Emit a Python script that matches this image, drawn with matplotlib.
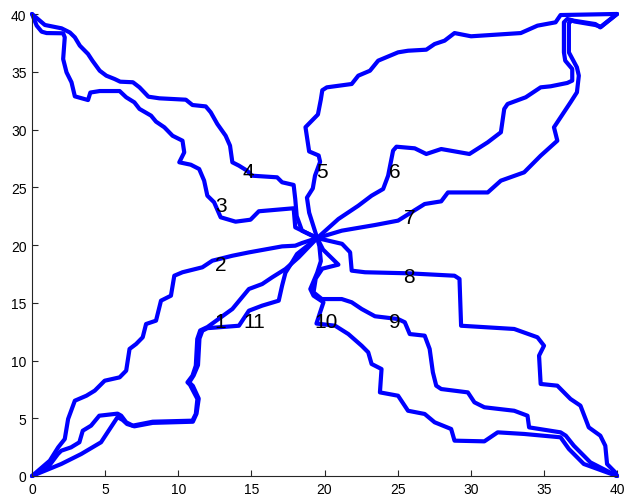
import matplotlib
matplotlib.use("Agg")
import matplotlib.pyplot as plt

plt.rcParams['font.family'] = ['Liberation Sans', 'DejaVu Sans']

path1 = [(0, 0), (1.09, 0.75), (1.77, 1.9), (2.0, 2.19), (2.67, 2.48), (3.24, 2.92), (3.47, 3.92),
         (4.04, 4.36), (4.6, 5.22), (5.85, 5.4), (6.1, 5.22), (6.44, 4.65), (6.89, 4.36), (8.25, 4.7),
         (10.97, 4.79), (11.2, 5.37), (11.31, 6.67), (10.8, 7.9), (10.63, 8.11), (10.97, 8.68),
         (11.2, 9.55), (11.3, 11.86), (11.5, 12.6), (12.0, 12.9), (13.7, 14.46), (14.83, 16.19),
         (15.74, 16.62), (16.42, 17.2), (17.33, 17.92), (18.23, 18.93), (19.5, 20.6)]
path2 = [(0, 0), (1.22, 1.33), (1.79, 2.48), (2.24, 3.2), (2.47, 4.94), (2.93, 6.52), (3.72, 6.95),
         (4.29, 7.39), (4.97, 8.25), (5.99, 8.54), (6.44, 9.12), (6.67, 11.0), (7.12, 11.43),
         (7.57, 12.01), (7.8, 13.16), (8.48, 13.45), (8.82, 15.18), (9.5, 15.61), (9.73, 17.34),
         (10.29, 17.64), (11.65, 18.07), (12.33, 18.64), (13.7, 19.07), (14.83, 19.36), (17.1, 19.88),
         (18.0, 19.94), (18.46, 20.17), (19.5, 20.6)]
path3 = [(0, 40), (0.32, 38.99), (0.66, 38.47), (1.0, 38.35), (2.13, 38.33), (2.24, 37.98), (2.13, 36.1),
         (2.36, 34.95), (2.7, 34.09), (2.93, 32.87), (3.83, 32.55), (3.99, 33.2), (4.63, 33.33),
         (5.99, 33.33), (6.44, 32.79), (7.0, 32.35), (7.35, 31.78), (8.14, 31.2), (8.48, 30.68),
         (9.05, 30.19), (9.61, 29.46), (10.29, 29.03), (10.41, 28.02), (10.07, 27.16), (10.86, 26.95),
         (11.43, 26.58), (11.77, 25.57), (11.99, 24.27), (12.45, 23.7), (12.9, 22.4), (13.92, 22.02),
         (14.94, 22.19), (15.51, 22.92), (17.89, 23.18), (18.0, 21.53), (19.5, 20.6)]
path4 = [(0, 40), (0.88, 39.05), (2.02, 38.76), (2.59, 38.4), (2.93, 37.98), (3.27, 37.26), (3.83, 36.54),
         (4.13, 35.96), (4.63, 35.09), (5.08, 34.66), (5.65, 34.37), (6.03, 34.14), (6.9, 34.09),
         (7.35, 33.65), (7.96, 32.84), (8.71, 32.7), (10.52, 32.58), (10.97, 32.12), (11.88, 32.0),
         (12.22, 31.49), (12.67, 30.48), (13.24, 29.46), (13.54, 28.6), (13.7, 27.16), (14.15, 26.87),
         (14.71, 26.43), (15.05, 26.0), (16.76, 25.86), (17.1, 25.43), (17.89, 25.2), (18.0, 23.98),
         (18.1, 22.5), (18.46, 21.24), (19.5, 20.6)]
path5 = [(19.5, 20.6), (18.95, 22.8), (18.8, 24.1), (19.2, 24.9), (19.35, 26.0), (19.7, 27.2),
         (19.6, 27.75), (18.95, 28.1), (18.7, 30.2), (19.55, 31.3), (19.75, 32.6), (19.85, 33.4),
         (20.16, 33.65), (21.86, 33.94), (22.31, 34.66), (23.11, 35.09), (23.67, 35.96), (25.03, 36.68),
         (25.71, 36.82), (26.96, 36.91), (27.53, 37.4), (28.21, 37.69), (28.89, 38.35), (30.02, 38.07),
         (33.42, 38.35), (34.56, 38.99), (35.8, 39.28), (36.14, 39.91), (39.88, 40.0), (40, 40)]
path6 = [(19.5, 20.6), (20.95, 22.25), (22.31, 23.4), (23.22, 24.27), (24.01, 24.85), (24.35, 26.0),
         (24.69, 28.17), (24.92, 28.51), (26.17, 28.37), (26.96, 27.88), (27.98, 28.31), (29.91, 27.88),
         (31.16, 28.89), (32.06, 29.76), (32.29, 31.78), (32.52, 32.21), (33.76, 32.79), (34.78, 33.65),
         (35.46, 33.74), (36.6, 34.03), (36.94, 34.23), (36.94, 35.24), (36.46, 35.96), (36.37, 36.68),
         (36.37, 39.28), (36.6, 39.57), (37.05, 39.42), (38.52, 39.13), (38.86, 38.84), (40, 40)]
path7 = [(19.5, 20.6), (21.18, 21.24), (23.45, 21.73), (25.03, 22.11), (26.85, 23.55), (27.98, 23.78),
         (28.44, 24.55), (31.16, 24.55), (32.06, 25.57), (33.65, 26.29), (34.78, 27.73), (35.92, 29.03),
         (35.69, 30.19), (36.14, 31.05), (36.82, 32.35), (37.26, 33.22), (37.39, 34.66), (37.26, 35.38),
         (36.71, 36.68), (36.71, 39.2), (36.9, 39.45), (37.1, 39.35), (38.5, 39.05), (38.9, 38.9), (40, 40)]
path8 = [(19.5, 20.6), (21.2, 20.1), (21.75, 19.37), (21.86, 17.78), (22.77, 17.64), (25.71, 17.55),
         (28.89, 17.34), (29.23, 17.06), (29.34, 13.01), (32.97, 12.73), (34.56, 12.01), (35.01, 11.28),
         (34.67, 10.42), (34.78, 7.97), (35.92, 7.82), (36.82, 6.67), (37.5, 6.09), (37.85, 4.94),
         (38.07, 4.21), (38.86, 3.49), (39.2, 2.62), (39.32, 1.04), (39.88, 0.32), (40, 0)]
path9 = [(19.5, 20.6), (19.9, 19.6), (20.95, 18.3), (19.85, 17.95), (19.4, 17.1), (19.25, 15.9),
         (19.82, 15.32), (21.18, 15.32), (21.86, 15.04), (22.54, 14.46), (23.45, 13.83), (25.03, 13.59),
         (25.49, 13.31), (25.83, 12.29), (26.85, 12.15), (27.19, 11.0), (27.41, 8.98), (27.64, 7.82),
         (27.98, 7.53), (29.8, 7.24), (30.25, 6.38), (30.93, 5.95), (32.97, 5.65), (33.88, 5.22),
         (33.99, 4.21), (36.14, 3.78), (36.5, 3.49), (37.05, 2.62), (38.18, 1.18), (40, 0)]
path10 = [(19.5, 20.6), (19.65, 19.9), (19.75, 18.6), (19.5, 17.6), (19.03, 16.19), (19.25, 15.61),
          (19.93, 15.04), (19.7, 14.17), (19.45, 13.2), (20.73, 13.01), (21.63, 12.29), (22.54, 11.28),
          (22.99, 10.71), (23.22, 9.7), (23.9, 9.26), (23.79, 7.24), (25.03, 6.95), (25.71, 5.65),
          (26.85, 5.37), (27.53, 4.65), (28.66, 4.07), (28.89, 3.06), (30.93, 3.0), (31.84, 3.78),
          (33.65, 3.64), (36.14, 3.35), (36.71, 2.34), (37.73, 1.04), (40, 0)]
path11 = [(0, 0), (2.0, 1.04), (3.36, 1.9), (4.72, 2.92), (5.85, 5.1), (6.2, 4.85), (6.5, 4.5), (7.0, 4.3),
          (8.25, 4.6), (11.0, 4.7), (11.25, 5.4), (11.4, 6.7), (11.0, 7.8), (10.75, 8.1), (11.05, 8.7),
          (11.35, 9.6), (11.45, 11.9), (11.65, 12.58), (12.0, 12.8), (14.15, 13.01), (14.83, 14.31),
          (15.74, 14.75), (16.87, 15.18), (17.1, 16.48), (17.33, 17.6), (17.78, 18.5), (18.12, 19.22),
          (19.5, 20.6)]

paths = [path1, path2, path3, path4, path5, path6, path7, path8, path9, path10, path11]
label_text = ['1', '2', '3', '4', '5', '6', '7', '8', '9', '10', '11']
label_x = [12.5, 12.5, 12.5, 14.4, 19.4, 24.4, 25.4, 25.4, 24.4, 19.3, 14.45]
label_y = [13.4, 18.35, 23.4, 26.4, 26.4, 26.4, 22.35, 17.3, 13.4, 13.4, 13.4]
ticks = [0, 5, 10, 15, 20, 25, 30, 35, 40]

fig = plt.figure(figsize=(6.25, 5.02), dpi=100)
ax = fig.add_axes([32 / 625, 25 / 502, 585 / 625, 462 / 502])

for p in paths:
    xs = [q[0] for q in p]
    ys = [q[1] for q in p]
    ax.plot(xs, ys, color='#0000ff', linewidth=3.0, solid_joinstyle='round',
            solid_capstyle='round', clip_on=False, zorder=2)

for t, x, y in zip(label_text, label_x, label_y):
    ax.text(x, y, t, fontsize=15, ha='left', va='center', color='black', zorder=3)

ax.set_xlim(0, 40)
ax.set_ylim(0, 40)
ax.set_xticks(ticks)
ax.set_yticks(ticks)
ax.spines['top'].set_visible(False)
ax.spines['right'].set_visible(False)
for s in ('left', 'bottom'):
    ax.spines[s].set_color('#262626')
    ax.spines[s].set_linewidth(0.8)
ax.tick_params(direction='in', length=4, width=0.8, colors='#262626', labelsize=10,
               labelcolor='black', pad=4)

fig.savefig('out.png', dpi=100)
